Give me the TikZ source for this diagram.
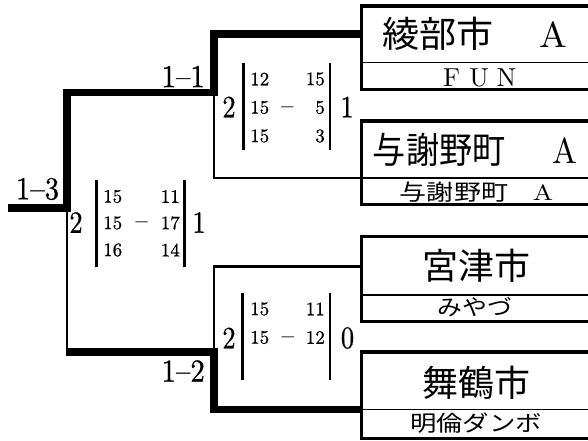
\documentclass[tikz,border=0pt]{standalone}
\usepackage{fontspec}
\usepackage{graphicx}
\setmainfont{lmroman10-regular.otf}
\newfontfamily\jp{Noto Sans CJK JP}
\newfontfamily\numf[FakeBold=0.8]{lmroman10-regular.otf}
\newcommand{\sqz}[2]{\scalebox{#1}[1]{#2}}
\newcommand{\fs}[1]{\fontsize{#1}{#1}\selectfont}
\begin{document}
\begin{tikzpicture}[x=1bp,y=-1bp,
  winln/.style={line width=7.5bp, line join=miter},
  losln/.style={line width=2.7bp, line join=miter},
  boxln/.style={line width=3.5bp, line join=miter},
  divln/.style={line width=1.3bp},
  barln/.style={line width=2.8bp},
  teamname/.style={inner sep=0pt, font=\jp\fs{36bp}},
  teamsub/.style={inner sep=0pt, font=\jp\fs{22bp}},
  scorecell/.style={inner sep=0pt, font=\numf\fs{19bp}},
  resdigit/.style={inner sep=0pt, font=\numf\fs{31bp}},
  roundlbl/.style={inner sep=0pt, font=\numf\fs{32bp}},
]
\useasboundingbox (0,0) rectangle (588,441);

% team boxes (open to the right)
\draw[boxln] (588,6) -- (361.5,6) -- (361.5,89.5) -- (588,89.5);
\draw[divln] (361.5,62.8) -- (588,62.8);
\draw[boxln] (588,121) -- (361.5,121) -- (361.5,204.5) -- (588,204.5);
\draw[divln] (361.5,178) -- (588,178);
\draw[boxln] (588,236.7) -- (361.5,236.7) -- (361.5,321.3) -- (588,321.3);
\draw[divln] (361.5,295) -- (588,295);
\draw[boxln] (588,352) -- (361.5,352) -- (361.5,438.7) -- (588,438.7);
\draw[divln] (361.5,409.3) -- (588,409.3);

% team texts
\node[teamname] (n1) at (475,33.5) {\sqz{1.03}{綾部市\hspace{45bp}{\rmfamily A}}};
\node[inner sep=0pt, font=\fs{26bp}] (s1) at (479,78) {\makebox[27.5bp]{F}\makebox[27.5bp]{U}\makebox[27.5bp]{N}};
\node[teamname] (n2) at (475,150) {\sqz{0.92}{与謝野町\hspace{51bp}{\rmfamily A}}};
\node[teamsub] (s2) at (476.5,192.5) {\sqz{1.23}{与謝野町\hspace{20bp}{\rmfamily A}}};
\node[teamname] (n3) at (476,265.5) {宮津市};
\node[teamsub] (s3) at (475,307.5) {\sqz{1.13}{みやづ}};
\node[teamname] (n4) at (476.5,382.5) {舞鶴市};
\node[teamsub] (s4) at (476,423) {\sqz{1.2}{明倫ダンボ}};

% bracket coordinates
\coordinate (t1) at (361.5,34);
\coordinate (t2) at (361.5,178);
\coordinate (t3) at (361.5,266.3);
\coordinate (t4) at (361.5,409.3);
\coordinate (j11) at (214,92.5);
\coordinate (j12) at (214,352);
\coordinate (j12e) at (65.6,352);
\coordinate (j13) at (67,208);
\coordinate (fin) at (8,208);

% losing paths
\draw[losln] (j11) |- (t2);
\draw[losln] (j12) |- (t3);
\draw[losln] (j13) -- (j13 |- j12e);
% winning paths
\draw[winln] (t1) -| (j11) -| (j13) -- (fin);
\draw[winln] (t4) -| (j12) -- (j12e);

% round labels
\node[roundlbl, anchor=east] (r11) at (205,76.5) {\sqz{0.9}{1–1}};
\node[roundlbl, anchor=east] (r12) at (205,371) {\sqz{0.9}{1–2}};
\node[roundlbl] (r13) at (37.5,189) {\sqz{0.9}{1–3}};

% score block 1-1
\node[resdigit] (a1w) at (229,107) {\sqz{0.85}{2}};
\node[resdigit] (a1l) at (347,107) {\sqz{0.85}{1}};
\draw[barln] (243.3,63.3) -- (243.3,150);
\draw[barln] (330,63.3) -- (330,150);
\node[scorecell, anchor=west] (a1a) at (250,79) {12};
\node[scorecell, anchor=west] (a1b) at (250,107.5) {15};
\node[scorecell, anchor=west] (a1c) at (250,136) {15};
\node[scorecell] (a1m) at (287.5,107) {$-$};
\node[scorecell, anchor=east] (a1d) at (325,79) {15};
\node[scorecell, anchor=east] (a1e) at (325,107.5) {5};
\node[scorecell, anchor=east] (a1f) at (325,136) {3};

% score block 1-3
\node[resdigit] (a3w) at (76,222.5) {\sqz{0.85}{2}};
\node[resdigit] (a3l) at (199,222.5) {\sqz{0.85}{1}};
\draw[barln] (96.5,180) -- (96.5,266.7);
\draw[barln] (184.3,180) -- (184.3,266.7);
\node[scorecell, anchor=west] (a3a) at (103,196.5) {15};
\node[scorecell, anchor=west] (a3b) at (103,223) {15};
\node[scorecell, anchor=west] (a3c) at (103,250) {16};
\node[scorecell] (a3m) at (141.7,222) {$-$};
\node[scorecell, anchor=east] (a3d) at (180,196.5) {11};
\node[scorecell, anchor=east] (a3e) at (180,223) {17};
\node[scorecell, anchor=east] (a3f) at (180,250) {14};

% score block 1-2
\node[resdigit] (a2w) at (229,338) {\sqz{0.85}{2}};
\node[resdigit] (a2l) at (347.5,338) {\sqz{0.85}{0}};
\draw[barln] (242.7,293) -- (242.7,380);
\draw[barln] (330,293) -- (330,380);
\node[scorecell, anchor=west] (a2a) at (250,309) {15};
\node[scorecell, anchor=west] (a2b) at (250,337.5) {15};
\node[scorecell] (a2m) at (288,337) {$-$};
\node[scorecell, anchor=east] (a2d) at (325,309) {11};
\node[scorecell, anchor=east] (a2e) at (325,337.5) {12};
\end{tikzpicture}
\end{document}
